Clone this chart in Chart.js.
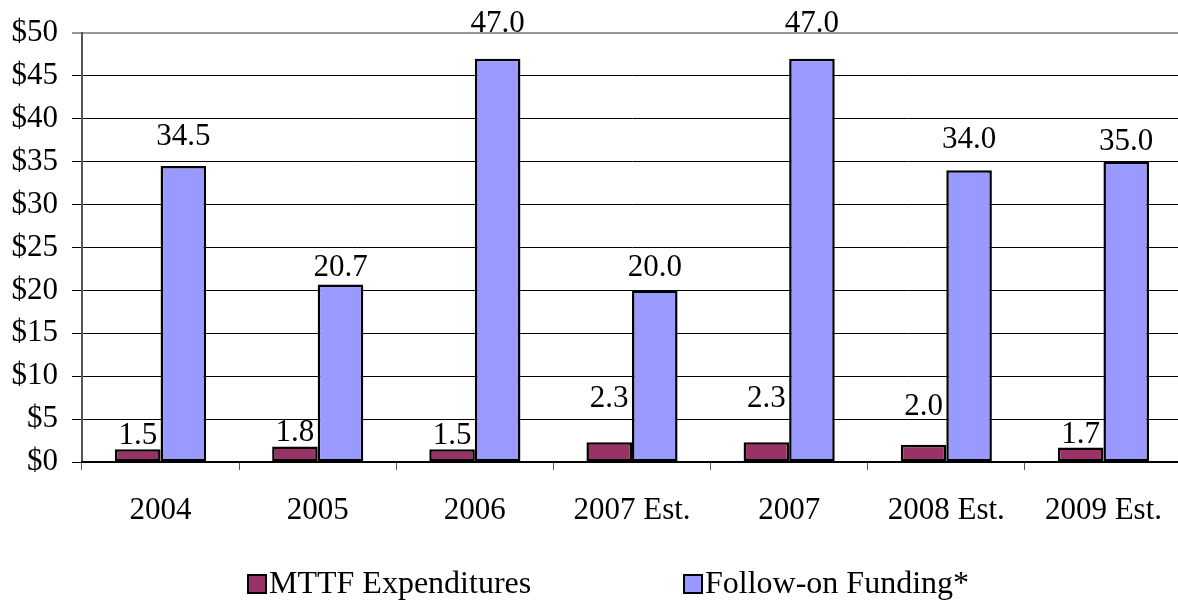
<!DOCTYPE html>
<html>
<head>
<meta charset="utf-8">
<script src="https://cdn.jsdelivr.net/npm/chart.js@4/dist/chart.umd.min.js"></script>
<style>
  html, body { margin: 0; padding: 0; background: #fff; overflow: hidden; }
  #wrap { width: 1184px; height: 600px; }
</style>
</head>
<body>
<div id="wrap"><canvas id="chart" width="1184" height="600"></canvas></div>
<script>
// Chart data
const years = ["2004", "2005", "2006", "2007 Est.", "2007", "2008 Est.", "2009 Est."];
const mttfExpenditures = [1.5, 1.8, 1.5, 2.3, 2.3, 2.0, 1.7];
const followOnFunding = [34.5, 20.7, 47.0, 20.0, 47.0, 34.0, 35.0];
const yTicks = [0, 5, 10, 15, 20, 25, 30, 35, 40, 45, 50];

const serif = "'Liberation Serif', 'Times New Roman', serif";

// gap (px) between bar top and label baseline, as placed in the original
const labelGap = [
  [5, 6, 5, 35, 35, 30, 4],
  [21, 8, 27, 14, 27, 22, 12]
];

// Draw value labels over the bars
const valueLabels = {
  id: "valueLabels",
  afterDatasetsDraw(chart) {
    const ctx = chart.ctx;
    ctx.save();
    ctx.font = "31px " + serif;
    ctx.fillStyle = "#000";
    ctx.textAlign = "center";
    ctx.textBaseline = "alphabetic";
    chart.data.datasets.forEach((ds, i) => {
      chart.getDatasetMeta(i).data.forEach((bar, j) => {
        ctx.fillText(ds.data[j].toFixed(1), bar.x, bar.y - labelGap[i][j]);
      });
    });
    ctx.restore();
  }
};

// Legend drawn by hand, keys placed like the original
const bottomLegend = {
  id: "bottomLegend",
  afterDraw(chart) {
    const ctx = chart.ctx;
    const keyX = [247, 683];
    ctx.save();
    ctx.font = "32px " + serif;
    ctx.textBaseline = "alphabetic";
    ctx.textAlign = "left";
    chart.data.datasets.forEach((ds, i) => {
      ctx.fillStyle = ds.backgroundColor;
      ctx.fillRect(keyX[i] + 1, 575, 18, 18);
      ctx.strokeStyle = "#000";
      ctx.lineWidth = 2;
      ctx.strokeRect(keyX[i] + 1, 575, 18, 18);
      ctx.fillStyle = "#000";
      ctx.fillText(ds.label, keyX[i] + 22, 593);
    });
    ctx.restore();
  }
};

new Chart(document.getElementById("chart").getContext("2d"), {
  type: "bar",
  data: {
    labels: years,
    datasets: [{
      label: "MTTF Expenditures",
      data: mttfExpenditures,
      backgroundColor: "#993366",
      borderColor: "#000",
      borderWidth: 2.5,
      borderSkipped: false,
      categoryPercentage: 0.58,
      barPercentage: 1.0,
    }, {
      label: "Follow-on Funding*",
      data: followOnFunding,
      backgroundColor: "#9999FF",
      borderColor: "#000",
      borderWidth: 2.5,
      borderSkipped: false,
      categoryPercentage: 0.58,
      barPercentage: 1.0,
    }],
  },
  options: {
    responsive: false,
    animation: false,
    layout: {
      padding: { top: 33, right: 0, bottom: 0, left: 0 },
    },
    plugins: {
      legend: { display: false },
      tooltip: { enabled: false },
    },
    scales: {
      y: {
        min: 0,
        max: 50,
        afterBuildTicks(axis) {
          axis.ticks = yTicks.map(v => ({ value: v }));
        },
        afterFit(axis) {
          axis.width = 82;
        },
        ticks: {
          autoSkip: false,
          font: { family: serif, size: 31 },
          color: "#000",
          padding: 14,
          callback: v => "$" + v,
        },
        grid: {
          color: ctx => ctx.tick && ctx.tick.value === 50 ? "#999" : "#000",
          lineWidth: ctx => ctx.tick && ctx.tick.value === 50 ? 2 : 1,
          tickLength: 10,
        },
        border: { color: "#555", width: 2 },
      },
      x: {
        afterFit(axis) {
          axis.height = 138;
        },
        ticks: {
          font: { family: serif, size: 31 },
          color: "#000",
          padding: 22,
          maxRotation: 0,
          autoSkip: false,
        },
        grid: {
          offset: true,
          drawOnChartArea: false,
          color: "#555",
          tickLength: 8,
        },
        border: { color: "#000", width: 2 },
      },
    },
  },
  plugins: [valueLabels, bottomLegend],
});
</script>
</body>
</html>
